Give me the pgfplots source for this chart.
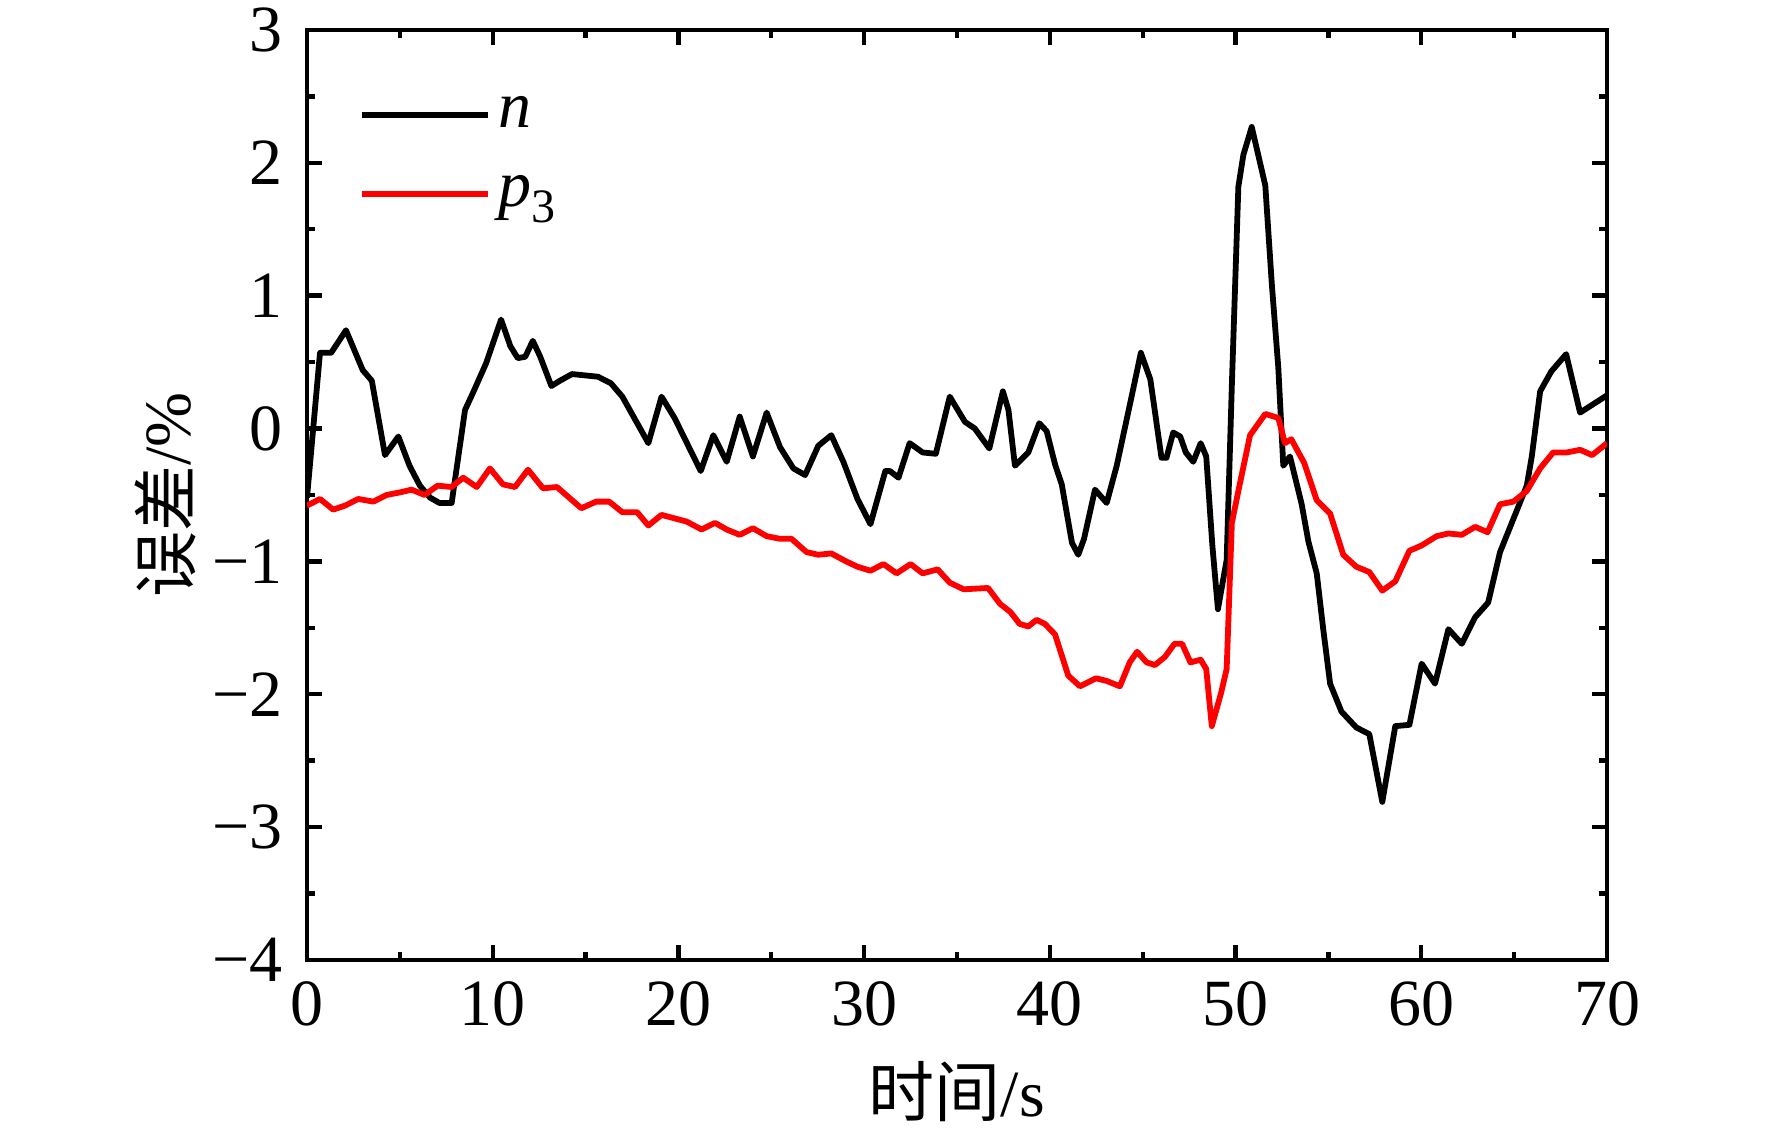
\documentclass[border=0pt]{standalone}
\usepackage{pgfplots}
\pgfplotsset{compat=1.18}
\usepackage{fontspec}
\setmainfont{Liberation Serif}
\newfontfamily\cjk{Noto Sans CJK SC}

\pgfplotstableread{
t v
0.0 -0.52
0.7 0.57
1.3 0.57
2.1 0.74
2.76 0.52
3.0 0.44
3.49 0.36
4.2 -0.20
4.92 -0.06
5.52 -0.28
6.08 -0.43
6.63 -0.52
7.13 -0.56
7.79 -0.56
8.51 0.14
8.94 0.27
9.64 0.49
10.45 0.82
10.95 0.62
11.35 0.53
11.75 0.54
12.16 0.66
12.56 0.54
13.16 0.32
13.62 0.36
14.27 0.41
15.67 0.39
16.37 0.34
16.98 0.24
18.38 -0.11
19.09 0.24
19.79 0.08
21.2 -0.32
21.88 -0.05
22.6 -0.25
23.3 0.09
24.01 -0.21
24.75 0.12
25.47 -0.14
26.19 -0.30
26.82 -0.35
27.53 -0.13
28.23 -0.05
28.88 -0.25
29.64 -0.53
30.34 -0.72
31.14 -0.32
31.39 -0.32
31.85 -0.37
32.45 -0.11
33.15 -0.18
33.86 -0.19
34.61 0.24
35.43 0.05
35.96 0.0
36.74 -0.15
37.47 0.28
37.77 0.14
38.12 -0.28
38.84 -0.18
39.43 0.04
39.83 -0.02
40.28 -0.27
40.64 -0.42
41.19 -0.86
41.53 -0.95
41.84 -0.83
42.43 -0.46
43.06 -0.56
43.6 -0.28
44.4 0.24
44.9 0.57
45.41 0.37
46.01 -0.22
46.28 -0.22
46.64 -0.03
47.02 -0.06
47.32 -0.18
47.72 -0.25
48.12 -0.11
48.42 -0.21
48.75 -0.88
49.05 -1.36
49.52 -0.99
49.8 0.33
50.15 1.82
50.42 2.06
50.87 2.27
51.6 1.83
51.95 1.09
52.3 0.46
52.57 -0.28
52.93 -0.21
53.56 -0.57
53.92 -0.85
54.37 -1.09
54.72 -1.51
55.09 -1.92
55.7 -2.13
56.5 -2.25
57.2 -2.30
57.9 -2.81
58.6 -2.24
59.36 -2.23
60.02 -1.77
60.74 -1.92
61.46 -1.51
62.18 -1.62
62.9 -1.42
63.6 -1.31
64.24 -0.93
64.96 -0.68
65.68 -0.43
65.95 -0.21
66.4 0.28
67.0 0.43
67.8 0.56
68.55 0.12
70.0 0.25
}\datan

\pgfplotstableread{
t v
0.0 -0.58
0.7 -0.53
1.41 -0.61
2.05 -0.58
2.76 -0.53
3.57 -0.55
4.29 -0.50
5.02 -0.48
5.63 -0.46
6.33 -0.50
7.03 -0.43
7.79 -0.44
8.41 -0.37
9.14 -0.44
9.85 -0.30
10.55 -0.42
11.2 -0.44
11.9 -0.31
12.71 -0.45
13.46 -0.44
14.77 -0.60
15.57 -0.55
16.27 -0.55
16.98 -0.63
17.78 -0.63
18.38 -0.73
19.09 -0.65
20.44 -0.70
21.25 -0.76
21.97 -0.71
22.6 -0.76
23.3 -0.80
24.01 -0.75
24.75 -0.81
25.47 -0.83
26.09 -0.83
26.9 -0.93
27.53 -0.95
28.23 -0.94
29.03 -1.00
29.64 -1.04
30.34 -1.07
31.04 -1.02
31.75 -1.09
32.5 -1.02
33.15 -1.09
33.96 -1.06
34.61 -1.16
35.36 -1.21
36.67 -1.20
37.32 -1.32
37.87 -1.38
38.37 -1.47
38.84 -1.49
39.28 -1.44
39.73 -1.47
40.28 -1.55
40.99 -1.86
41.62 -1.94
42.49 -1.88
43.06 -1.90
43.77 -1.94
44.3 -1.76
44.7 -1.68
45.21 -1.76
45.66 -1.78
46.19 -1.72
46.71 -1.62
47.12 -1.62
47.57 -1.76
48.12 -1.74
48.42 -1.81
48.72 -2.24
49.22 -1.99
49.52 -1.81
49.8 -0.71
50.15 -0.47
50.78 -0.05
51.6 0.11
52.3 0.08
52.66 -0.11
53.0 -0.08
53.7 -0.26
54.37 -0.54
55.09 -0.64
55.8 -0.95
56.5 -1.04
57.2 -1.08
57.9 -1.22
58.6 -1.15
59.36 -0.92
60.02 -0.88
60.83 -0.81
61.46 -0.79
62.18 -0.80
62.9 -0.74
63.57 -0.78
64.24 -0.57
64.96 -0.55
65.68 -0.47
66.4 -0.30
67.1 -0.18
67.84 -0.18
68.55 -0.16
69.2 -0.20
70.0 -0.11
}\datap

\begin{document}
\begin{tikzpicture}
\begin{axis}[
  scale only axis, width=325pt, height=232.5pt,
  xmin=0, xmax=70, ymin=-4, ymax=3,
  xtick={0,10,20,30,40,50,60,70},
  xticklabels={0,10,20,30,40,50,60,70},
  ytick={-4,-3,-2,-1,0,1,2,3},
  yticklabels={−4,−3,−2,−1,0,1,2,3},
  minor x tick num=1, minor y tick num=1,
  tick align=inside, major tick length=3.75pt, minor tick length=2pt,
  axis line style={line width=1.1pt},
  every tick/.style={black, line width=1.1pt},
  tick label style={font=\fontsize{16.5}{18}\selectfont},
  xticklabel style={yshift=-1.8pt},
  yticklabel style={xshift=-2.5pt},
  xlabel={{\cjk 时间}/s}, ylabel={{\cjk 误差}/\%},
  label style={font=\fontsize{16.5}{18}\selectfont},
  xlabel style={at={(axis description cs:0.5,-0.142)}, anchor=center},
  ylabel style={at={(axis description cs:-0.1085,0.5)}, anchor=center},
  legend style={at={(rel axis cs:0.03,0.947)}, anchor=north west, draw=none, fill=none,
    font=\fontsize{16.5}{18}\selectfont, row sep=6.5pt},
  legend cell align=left,
  legend image code/.code={\draw[#1] (0pt,0pt) -- (31.5pt,0pt);},
]
\addplot[black, line width=1.45pt, line join=round] table[x=t,y=v] {\datan};
\addlegendentry{\textit{n}}
\addplot[red, line width=1.45pt, line join=round] table[x=t,y=v] {\datap};
\addlegendentry{\textit{p}\raisebox{-0.55ex}{\fontsize{12}{12}\selectfont 3}}
\end{axis}
\pgfresetboundingbox
\path[use as bounding box] ([xshift=-76.75pt,yshift=-44.25pt]current axis.south west) rectangle ([xshift=41.25pt,yshift=7.5pt]current axis.north east);
\end{tikzpicture}
\end{document}
